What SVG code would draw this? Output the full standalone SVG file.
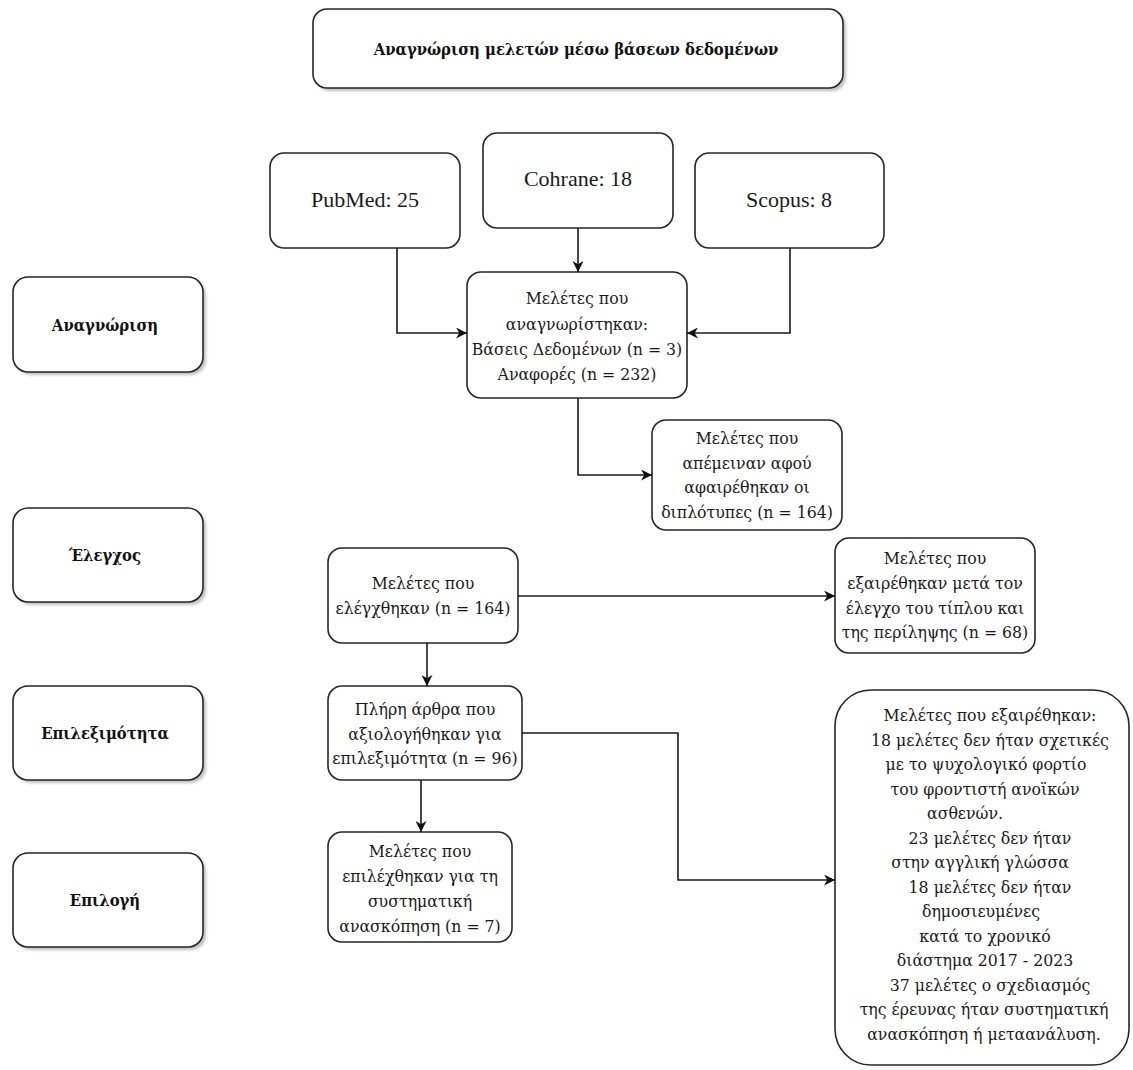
<svg xmlns="http://www.w3.org/2000/svg" width="1133" height="1070" viewBox="0 0 1133 1070">
<style>
.box{fill:#fff;stroke:#262626;stroke-width:1.6}
.shadow{fill:#8a8a8a;opacity:0.55}
.t{font-family:"DejaVu Serif Condensed","DejaVu Serif","Liberation Serif",serif;font-size:17.5px;fill:#1a1a1a;text-anchor:middle}
.db{font-family:"Liberation Serif","DejaVu Serif",serif;font-size:22px}
.b{font-family:"DejaVu Serif Condensed","DejaVu Serif","Liberation Serif",serif;font-size:16.5px;font-weight:bold;fill:#111;text-anchor:middle}
.c{fill:none;stroke:#1a1a1a;stroke-width:1.6;marker-end:url(#arr)}
</style>
<defs>
<filter id="blur" x="-10%" y="-10%" width="120%" height="130%"><feGaussianBlur stdDeviation="1.5"/></filter>
<marker id="arr" viewBox="0 0 10 10" markerUnits="userSpaceOnUse" markerWidth="13" markerHeight="11" refX="10" refY="5" orient="auto"><path d="M0,0 L10,5 L0,10 L3,5 z" fill="#111"/></marker>
</defs>
<rect width="1133" height="1070" fill="#fff"/>

<g id="title">
<rect class="shadow" filter="url(#blur)" x="316" y="12" width="530" height="79" rx="14"/>
<rect class="box" x="313" y="9" width="530" height="79" rx="14"/>
<text class="b" x="576" y="55">Αναγνώριση μελετών μέσω βάσεων δεδομένων</text>
</g>

<g id="stage-identification">
<rect class="shadow" filter="url(#blur)" x="16" y="280" width="190" height="95" rx="15"/>
<rect class="box" x="13" y="277" width="190" height="95" rx="15"/>
<text class="b" x="105" y="331">Αναγνώριση</text>
</g>
<g id="stage-screening">
<rect class="shadow" filter="url(#blur)" x="16" y="511" width="190" height="94" rx="15"/>
<rect class="box" x="13" y="508" width="190" height="94" rx="15"/>
<text class="b" x="105" y="561">Έλεγχος</text>
</g>
<g id="stage-eligibility">
<rect class="shadow" filter="url(#blur)" x="16" y="689" width="190" height="94" rx="15"/>
<rect class="box" x="13" y="686" width="190" height="94" rx="15"/>
<text class="b" x="105" y="739">Επιλεξιμότητα</text>
</g>
<g id="stage-included">
<rect class="shadow" filter="url(#blur)" x="16" y="856" width="190" height="94" rx="15"/>
<rect class="box" x="13" y="853" width="190" height="94" rx="15"/>
<text class="b" x="105" y="906">Επιλογή</text>
</g>

<g id="pubmed">
<rect class="box" x="270" y="153" width="190" height="95" rx="14"/>
<text class="t db" x="365" y="207">PubMed: 25</text>
</g>
<g id="cochrane">
<rect class="box" x="483" y="133" width="190" height="95" rx="14"/>
<text class="t db" x="578" y="186">Cohrane: 18</text>
</g>
<g id="scopus">
<rect class="box" x="695" y="153" width="189" height="95" rx="14"/>
<text class="t db" x="789" y="207">Scopus: 8</text>
</g>

<g id="identified">
<rect class="box" x="467" y="272" width="220" height="126" rx="14"/>
<text class="t" x="577" y="304">Μελέτες που</text>
<text class="t" x="577" y="329.5">αναγνωρίστηκαν:</text>
<text class="t" x="577" y="355">Βάσεις Δεδομένων (n = 3)</text>
<text class="t" x="577" y="380">Αναφορές (n = 232)</text>
</g>

<g id="after-duplicates">
<rect class="box" x="652" y="420" width="190" height="110" rx="14"/>
<text class="t" x="747" y="444">Μελέτες που</text>
<text class="t" x="747" y="468.5">απέμειναν αφού</text>
<text class="t" x="747" y="493">αφαιρέθηκαν οι</text>
<text class="t" x="747" y="517.5">διπλότυπες (n = 164)</text>
</g>

<g id="screened">
<rect class="box" x="328" y="548" width="190" height="95" rx="14"/>
<text class="t" x="423" y="589">Μελέτες που</text>
<text class="t" x="423" y="614">ελέγχθηκαν (n = 164)</text>
</g>

<g id="excluded-title">
<rect class="box" x="835" y="538" width="200" height="115" rx="14"/>
<text class="t" x="935" y="564">Μελέτες που</text>
<text class="t" x="935" y="589">εξαιρέθηκαν μετά τον</text>
<text class="t" x="935" y="613.5">έλεγχο του τίπλου και</text>
<text class="t" x="935" y="638">της περίληψης (n = 68)</text>
</g>

<g id="fulltext">
<rect class="box" x="328" y="686" width="194" height="94" rx="14"/>
<text class="t" x="425" y="715">Πλήρη άρθρα που</text>
<text class="t" x="425" y="739.5">αξιολογήθηκαν για</text>
<text class="t" x="425" y="764">επιλεξιμότητα (n = 96)</text>
</g>

<g id="included">
<rect class="box" x="328" y="832" width="184" height="110" rx="14"/>
<text class="t" x="420" y="857">Μελέτες που</text>
<text class="t" x="420" y="882">επιλέχθηκαν για τη</text>
<text class="t" x="420" y="906.5">συστηματική</text>
<text class="t" x="420" y="931.5">ανασκόπηση (n = 7)</text>
</g>

<g id="excluded-fulltext">
<rect class="box" x="835" y="690" width="294" height="375" rx="36"/>
<text class="t" x="990" y="721">Μελέτες που εξαιρέθηκαν:</text>
<text class="t" x="990" y="745.5">18 μελέτες δεν ήταν σχετικές</text>
<text class="t" x="986" y="770">με το ψυχολογικό φορτίο</text>
<text class="t" x="985" y="794.5">του φροντιστή ανοϊκών</text>
<text class="t" x="965" y="819">ασθενών.</text>
<text class="t" x="990" y="843.5">23 μελέτες δεν ήταν</text>
<text class="t" x="980" y="868">στην αγγλική γλώσσα</text>
<text class="t" x="990" y="892.5">18 μελέτες δεν ήταν</text>
<text class="t" x="981" y="917">δημοσιευμένες</text>
<text class="t" x="985" y="941.5">κατά το χρονικό</text>
<text class="t" x="985" y="966">διάστημα 2017 - 2023</text>
<text class="t" x="990" y="990.5">37 μελέτες ο σχεδιασμός</text>
<text class="t" x="984" y="1015">της έρευνας ήταν συστηματική</text>
<text class="t" x="984" y="1039.5">ανασκόπηση ή μεταανάλυση.</text>
</g>

<g id="connectors">
<path class="c" d="M397 248 V333 H467"/>
<path class="c" d="M578 228 V272"/>
<path class="c" d="M790 248 V333 H687"/>
<path class="c" d="M578 398 V475 H652"/>
<path class="c" d="M518 596 H835"/>
<path class="c" d="M427 643 V686"/>
<path class="c" d="M522 733 H678 V880 H835"/>
<path class="c" d="M421 780 V832"/>
</g>
</svg>
